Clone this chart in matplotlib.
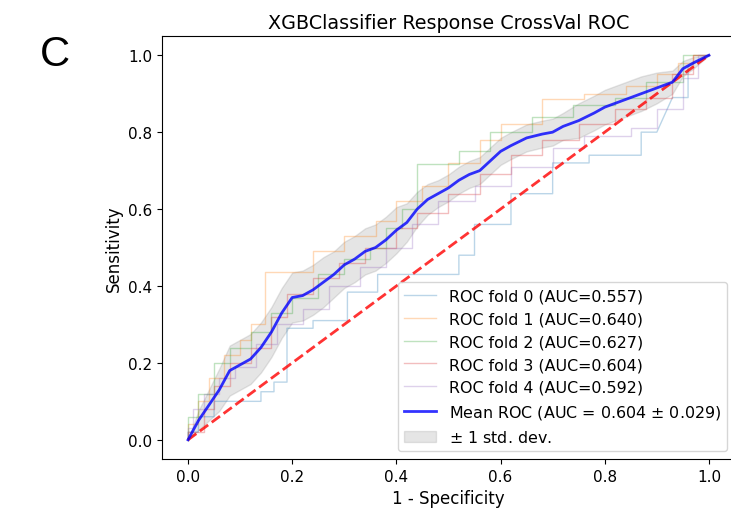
import numpy as np
import matplotlib
matplotlib.use("Agg")
from matplotlib import pyplot as plt

# per-fold ROC corner points
fold_fpr = [
    [0, 0, 0.02, 0.02, 0.05, 0.05, 0.14, 0.14, 0.165, 0.165, 0.19, 0.19, 0.24, 0.24, 0.306, 0.306,
     0.364, 0.364, 0.52, 0.52, 0.55, 0.55, 0.62, 0.62, 0.70, 0.70, 0.77, 0.77, 0.87, 0.87, 0.90,
     0.93, 0.96, 0.96, 1.0],
    [0, 0, 0.02, 0.02, 0.04, 0.04, 0.07, 0.07, 0.10, 0.10, 0.12, 0.12, 0.148, 0.148, 0.24, 0.24,
     0.30, 0.30, 0.36, 0.36, 0.40, 0.40, 0.45, 0.45, 0.50, 0.50, 0.56, 0.56, 0.60, 0.60, 0.68, 0.68,
     0.76, 0.76, 0.84, 0.84, 0.90, 0.90, 0.94, 0.94, 0.97, 0.97, 1.0],
    [0, 0, 0.02, 0.02, 0.05, 0.05, 0.08, 0.08, 0.12, 0.12, 0.16, 0.16, 0.20, 0.20, 0.25, 0.25,
     0.30, 0.30, 0.35, 0.35, 0.38, 0.38, 0.41, 0.41, 0.44, 0.44, 0.52, 0.52, 0.58, 0.58, 0.66, 0.66,
     0.74, 0.74, 0.82, 0.82, 0.88, 0.88, 0.95, 0.95, 1.0],
    [0, 0, 0.03, 0.03, 0.05, 0.05, 0.08, 0.08, 0.12, 0.12, 0.16, 0.16, 0.19, 0.19, 0.24, 0.24,
     0.29, 0.29, 0.34, 0.34, 0.40, 0.40, 0.44, 0.44, 0.50, 0.50, 0.56, 0.56, 0.62, 0.62, 0.68, 0.68,
     0.75, 0.75, 0.82, 0.82, 0.88, 0.88, 0.93, 0.93, 0.97, 0.97, 1.0],
    [0, 0, 0.01, 0.01, 0.03, 0.03, 0.06, 0.06, 0.09, 0.09, 0.13, 0.13, 0.17, 0.17, 0.22, 0.22,
     0.27, 0.27, 0.33, 0.33, 0.38, 0.38, 0.43, 0.43, 0.48, 0.48, 0.55, 0.55, 0.62, 0.62, 0.70, 0.70,
     0.76, 0.76, 0.85, 0.85, 0.90, 0.90, 0.95, 0.95, 0.98, 0.98, 1.0],
]
fold_tpr = [
    [0, 0.02, 0.02, 0.06, 0.06, 0.10, 0.10, 0.125, 0.125, 0.15, 0.15, 0.29, 0.29, 0.31, 0.31, 0.384,
     0.384, 0.43, 0.43, 0.48, 0.48, 0.56, 0.56, 0.64, 0.64, 0.72, 0.72, 0.74, 0.74, 0.80, 0.80,
     0.89, 0.89, 0.97, 1.0],
    [0, 0.04, 0.04, 0.10, 0.10, 0.16, 0.16, 0.22, 0.22, 0.26, 0.26, 0.30, 0.30, 0.436, 0.436, 0.49,
     0.49, 0.53, 0.53, 0.57, 0.57, 0.62, 0.62, 0.66, 0.66, 0.72, 0.72, 0.78, 0.78, 0.82, 0.82, 0.886,
     0.886, 0.90, 0.90, 0.92, 0.92, 0.95, 0.95, 0.98, 0.98, 1.0, 1.0],
    [0, 0.06, 0.06, 0.12, 0.12, 0.20, 0.20, 0.24, 0.24, 0.28, 0.28, 0.33, 0.33, 0.37, 0.37, 0.43,
     0.43, 0.47, 0.47, 0.50, 0.50, 0.55, 0.55, 0.60, 0.60, 0.717, 0.717, 0.75, 0.75, 0.80, 0.80, 0.84,
     0.84, 0.87, 0.87, 0.89, 0.89, 0.93, 0.93, 1.0, 1.0],
    [0, 0.02, 0.02, 0.08, 0.08, 0.14, 0.14, 0.20, 0.20, 0.24, 0.24, 0.32, 0.32, 0.38, 0.38, 0.42,
     0.42, 0.46, 0.46, 0.50, 0.50, 0.55, 0.55, 0.59, 0.59, 0.64, 0.64, 0.69, 0.69, 0.74, 0.74, 0.78,
     0.78, 0.82, 0.82, 0.86, 0.86, 0.89, 0.89, 0.95, 0.95, 1.0, 1.0],
    [0, 0.03, 0.03, 0.08, 0.08, 0.12, 0.12, 0.16, 0.16, 0.19, 0.19, 0.25, 0.25, 0.30, 0.30, 0.34,
     0.34, 0.40, 0.40, 0.45, 0.45, 0.50, 0.50, 0.56, 0.56, 0.62, 0.62, 0.66, 0.66, 0.71, 0.71, 0.76,
     0.76, 0.79, 0.79, 0.81, 0.81, 0.86, 0.86, 0.94, 0.94, 1.0, 1.0],
]
fold_auc = [0.557, 0.640, 0.627, 0.604, 0.592]

# mean ROC and its spread
mean_fpr = [0.0, 0.02, 0.04, 0.06, 0.08, 0.10, 0.12, 0.14, 0.16, 0.18, 0.20, 0.22, 0.24, 0.26,
            0.28, 0.30, 0.32, 0.34, 0.36, 0.38, 0.40, 0.42, 0.44, 0.46, 0.48, 0.50, 0.52, 0.54,
            0.56, 0.58, 0.60, 0.62, 0.65, 0.68, 0.70, 0.72, 0.75, 0.78, 0.80, 0.84, 0.87, 0.90,
            0.93, 0.95, 0.97, 1.0]
mean_tpr = [0.0, 0.05, 0.09, 0.13, 0.18, 0.195, 0.21, 0.24, 0.28, 0.33, 0.37, 0.375, 0.39, 0.41,
            0.43, 0.455, 0.47, 0.49, 0.50, 0.52, 0.545, 0.565, 0.60, 0.625, 0.64, 0.655, 0.675, 0.69,
            0.70, 0.725, 0.75, 0.765, 0.785, 0.795, 0.80, 0.815, 0.83, 0.85, 0.865, 0.885, 0.90, 0.915,
            0.93, 0.965, 0.98, 1.0]
std_tpr = [0.0, 0.025, 0.04, 0.055, 0.065, 0.065, 0.065, 0.065, 0.065, 0.065, 0.065, 0.065, 0.065, 0.065,
           0.06, 0.06, 0.06, 0.06, 0.06, 0.06, 0.06, 0.05, 0.045, 0.04, 0.035, 0.035, 0.035, 0.035,
           0.035, 0.035, 0.035, 0.035, 0.035, 0.035, 0.035, 0.035, 0.045, 0.045, 0.045, 0.045, 0.045, 0.04,
           0.03, 0.02, 0.015, 0.0]
mean_auc = 0.604
std_auc = 0.029

fig = plt.figure(figsize=(7.31, 5.10), dpi=100)
ax = fig.add_axes([0.2216, 0.098, 0.7838, 0.8294])

for i in range(5):
    ax.plot(fold_fpr[i], fold_tpr[i], lw=1, alpha=0.3,
            label='ROC fold %d (AUC=%.3f)' % (i, fold_auc[i]))

ax.plot([0, 1], [0, 1], linestyle='--', lw=2, color='r', alpha=.8)

ax.plot(mean_fpr, mean_tpr, color='b', lw=2, alpha=.8,
        label=r'Mean ROC (AUC = %0.3f $\pm$ %0.3f)' % (mean_auc, std_auc))

m = np.array(mean_tpr)
s = np.array(std_tpr)
ax.fill_between(mean_fpr, np.maximum(m - s, 0), np.minimum(m + s, 1), color='grey', alpha=.2,
                label=r'$\pm$ 1 std. dev.')

ax.set_xlim([-0.05, 1.05])
ax.set_ylim([-0.05, 1.05])
ax.tick_params(labelsize=11)
ax.set_xlabel('1 - Specificity', fontsize=12)
ax.set_ylabel('Sensitivity', fontsize=12)
ax.set_title('XGBClassifier Response CrossVal ROC', fontsize=13.8)
ax.legend(loc='lower right', fontsize=11.4)

fig.text(0.055, 0.892, 'C', fontsize=30, family='Liberation Sans', va='center')

fig.savefig('out.png', dpi=100)
